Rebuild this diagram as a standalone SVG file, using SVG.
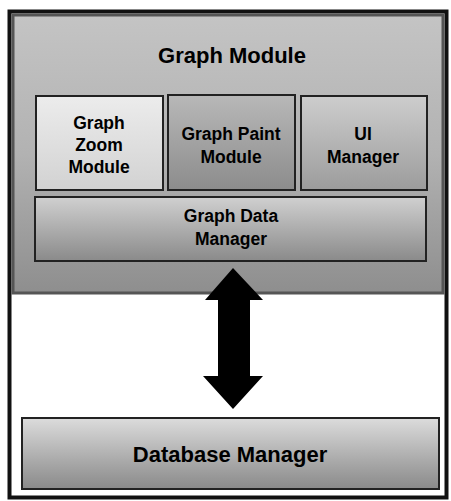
<svg xmlns="http://www.w3.org/2000/svg" width="451" height="501" viewBox="0 0 451 501">
<style>
text{font-family:"Liberation Sans","DejaVu Sans",sans-serif;font-weight:bold;fill:#000;text-anchor:middle}
.t{font-size:22px}
.s{font-size:17.5px}
.box{stroke:#222;stroke-width:2}
</style>
<defs>
<linearGradient id="gm" x1="0" y1="0" x2="0" y2="1">
<stop offset="0" stop-color="#c4c4c4"/><stop offset="0.5" stop-color="#b2b2b2"/><stop offset="1" stop-color="#8e8e8e"/>
</linearGradient>
<linearGradient id="lite" x1="0" y1="0" x2="0" y2="1">
<stop offset="0" stop-color="#ececec"/><stop offset="1" stop-color="#d2d2d2"/>
</linearGradient>
<linearGradient id="mid" x1="0" y1="0" x2="0" y2="1">
<stop offset="0" stop-color="#b8b8b8"/><stop offset="1" stop-color="#8c8c8c"/>
</linearGradient>
<linearGradient id="ui" x1="0" y1="0" x2="0" y2="1">
<stop offset="0" stop-color="#cdcdcd"/><stop offset="1" stop-color="#9c9c9c"/>
</linearGradient>
<linearGradient id="gd" x1="0" y1="0" x2="0" y2="1">
<stop offset="0" stop-color="#d0d0d0"/><stop offset="1" stop-color="#8a8a8a"/>
</linearGradient>
<linearGradient id="db" x1="0" y1="0" x2="0" y2="1">
<stop offset="0" stop-color="#dcdcdc"/><stop offset="0.6" stop-color="#aaaaaa"/><stop offset="1" stop-color="#8a8a8a"/>
</linearGradient>
</defs>
<rect x="0" y="0" width="451" height="501" fill="#fff"/>
<rect x="9.5" y="11.5" width="437" height="486" fill="#fff" stroke="#111" stroke-width="4"/>
<g id="graph-module">
<rect x="13" y="15" width="430" height="278" fill="url(#gm)" stroke="#555" stroke-width="3"/>
<text class="t" x="232" y="63">Graph Module</text>
</g>
<g id="graph-zoom-module">
<rect class="box" x="36" y="96" width="127" height="94" fill="url(#lite)"/>
<text class="s" x="99" y="129">Graph</text>
<text class="s" x="99" y="151">Zoom</text>
<text class="s" x="99" y="173">Module</text>
</g>
<g id="graph-paint-module">
<rect class="box" x="168" y="95" width="127" height="95" fill="url(#mid)"/>
<text class="s" x="231" y="140">Graph Paint</text>
<text class="s" x="231" y="163">Module</text>
</g>
<g id="ui-manager">
<rect class="box" x="301" y="96" width="126" height="94" fill="url(#ui)"/>
<text class="s" x="363" y="140">UI</text>
<text class="s" x="363" y="163">Manager</text>
</g>
<g id="graph-data-manager">
<rect class="box" x="35" y="197" width="391" height="64" fill="url(#gd)"/>
<text class="s" x="231" y="222">Graph Data</text>
<text class="s" x="231" y="245">Manager</text>
</g>
<g id="database-manager">
<rect class="box" x="22" y="418" width="417" height="71" fill="url(#db)"/>
<text class="t" x="230" y="462">Database Manager</text>
</g>
<g id="connectors">
<polygon points="233,268 263,300 250,300 250,376 263,376 233,409 203,376 218,376 218,300 205,300" fill="#000"/>
</g>
</svg>
